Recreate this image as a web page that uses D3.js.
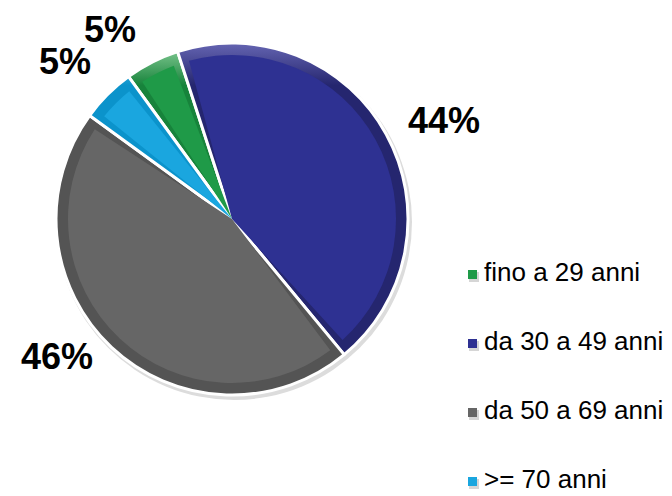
<!DOCTYPE html>
<html>
<head>
<meta charset="utf-8">
<script src="https://cdn.jsdelivr.net/npm/d3@7"></script>
<style>
  body { margin: 0; background: #fff; }
  svg { display: block; }
</style>
</head>
<body>
<svg width="672" height="496"></svg>
<script>
// data
var categories = ["fino a 29 anni", "da 30 a 49 anni", "da 50 a 69 anni", ">= 70 anni"];
var values = [5, 44, 46, 5];
var pctLabels = ["5%", "44%", "46%", "5%"];

var mainColors = ["#1f9a48", "#2e3192", "#666666", "#1aa6df"];
var edgeColors = ["#17833b", "#25266f", "#545454", "#0b93cb"];
var lightColors = ["#90d39f", "#6565b2", "#8a8a8a", "#8ad6f1"];

var svg = d3.select("svg");
var cx = 232, cy = 219, r = 176, bevel = 12;

var defs = svg.append("defs");
mainColors.forEach(function(c, i) {
    var g = defs.append("linearGradient")
        .attr("id", "edge" + i)
        .attr("gradientUnits", "userSpaceOnUse")
        .attr("x1", 0).attr("y1", -r)
        .attr("x2", 0).attr("y2", r);
    g.append("stop").attr("offset", 0).attr("stop-color", lightColors[i]);
    g.append("stop").attr("offset", 0.12).attr("stop-color", edgeColors[i]);
    g.append("stop").attr("offset", 1).attr("stop-color", edgeColors[i]);
});

var pie = d3.pie()
    .sort(null)
    .startAngle(-Math.PI / 5)
    .endAngle(-Math.PI / 5 + 2 * Math.PI);
var arcs = pie(values);

var chart = svg.append("g").attr("transform", "translate(" + cx + "," + cy + ")");

// soft shadow round the rim
chart.append("circle")
    .attr("cx", 2).attr("cy", 3)
    .attr("r", r + 2)
    .attr("fill", "#dcdcdc");

var outerArc = d3.arc().innerRadius(0).outerRadius(r);
var innerArc = d3.arc().innerRadius(0).outerRadius(r - bevel);

chart.selectAll("path.outer")
    .data(arcs)
    .enter()
        .append("path")
        .attr("class", "outer")
        .attr("d", outerArc)
        .attr("fill", function(d, i) { return "url(#edge" + i + ")"; })
        .attr("stroke", "#fff")
        .attr("stroke-width", 3)
        .attr("stroke-linejoin", "round");

chart.selectAll("path.inner")
    .data(arcs)
    .enter()
        .append("path")
        .attr("class", "inner")
        .attr("d", function(d) {
            return innerArc.padAngle(16 / (r - bevel))(d);
        })
        .attr("fill", function(d, i) { return mainColors[i]; });

// percentage labels, same order as categories
var labelPos = [[110, 42], [444, 133], [57, 369], [65, 74]];
svg.selectAll("text.pct")
    .data(pctLabels)
    .enter()
        .append("text")
        .attr("class", "pct")
        .attr("x", function(d, i) { return labelPos[i][0]; })
        .attr("y", function(d, i) { return labelPos[i][1]; })
        .attr("text-anchor", "middle")
        .style("font-family", "'Liberation Sans', Arial, sans-serif")
        .style("font-weight", "bold")
        .style("font-size", "36px")
        .text(function(d) { return d; });

// legend
var legend = svg.append("g").attr("transform", "translate(468,281)");
var rows = legend.selectAll("g")
    .data(categories)
    .enter()
        .append("g")
        .attr("transform", function(d, i) { return "translate(0," + (i * 69) + ")"; });

rows.append("rect")
    .attr("x", 1).attr("y", -9)
    .attr("width", 10).attr("height", 10)
    .attr("fill", "#d6d6d6");
rows.append("rect")
    .attr("x", 0).attr("y", -11)
    .attr("width", 9).attr("height", 9)
    .attr("fill", function(d, i) { return mainColors[i]; });

rows.append("text")
    .attr("x", 16)
    .attr("y", 0)
    .style("font-family", "'Liberation Sans', Arial, sans-serif")
    .style("font-size", "26px")
    .text(function(d) { return d; });
</script>
</body>
</html>
